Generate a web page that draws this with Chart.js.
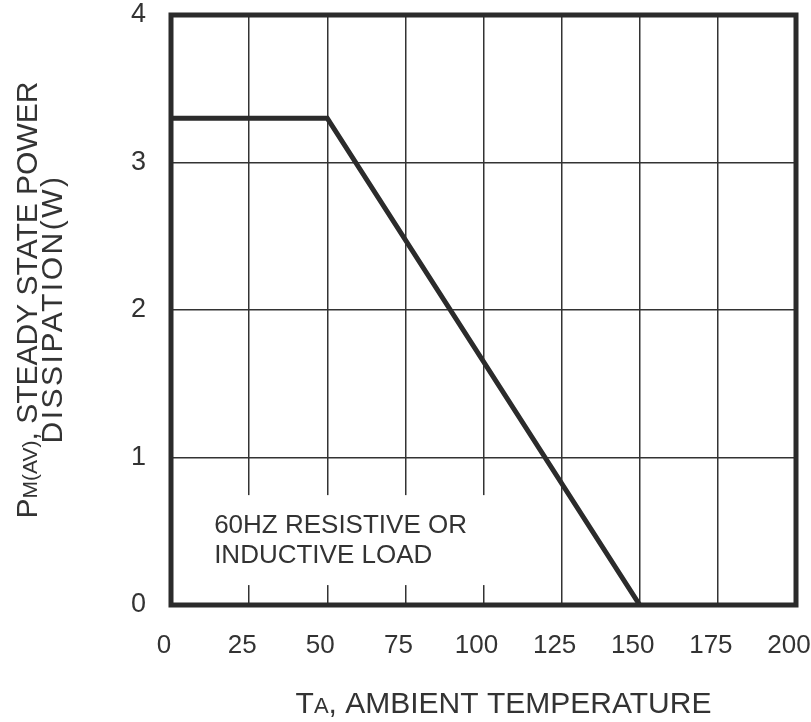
<!DOCTYPE html>
<html>
<head>
<meta charset="utf-8">
<script src="https://cdn.jsdelivr.net/npm/chart.js@4"></script>
<style>
  html, body { margin: 0; padding: 0; background: #fff; }
  #wrap { width: 811px; height: 722px; }
</style>
</head>
<body>
<div id="wrap"><canvas id="c" width="811" height="722"></canvas></div>
<script>
// ---- data ----
const temperature = [0, 50, 150];          // T_A (°C)
const powerW = [3.3, 3.3, 0];              // P_M(AV) (W)
const xTicks = [0, 25, 50, 75, 100, 125, 150, 175, 200];
const yTicks = [0, 1, 2, 3, 4];
const noteLines = ['60HZ RESISTIVE OR', 'INDUCTIVE LOAD'];

const FONT = '"Liberation Sans", Arial, sans-serif';
const INK = '#2b2b2b';
const TEXT = '#333';

function drawRich(ctx, parts, x, y, align, spacing) {
  spacing = spacing || '0px';
  let total = 0;
  ctx.letterSpacing = spacing;
  parts.forEach(p => { ctx.font = p.size + 'px ' + FONT; p.w = ctx.measureText(p.t).width; total += p.w; });
  let cx = align === 'center' ? x - total / 2 : x;
  ctx.textAlign = 'left';
  ctx.textBaseline = 'alphabetic';
  parts.forEach(p => { ctx.font = p.size + 'px ' + FONT; ctx.fillText(p.t, cx, y); cx += p.w; });
  ctx.letterSpacing = '0px';
}

const decor = {
  id: 'decor',
  beforeDatasetsDraw(chart) {
    const { ctx, scales: { x, y } } = chart;
    ctx.save();
    const l = x.getPixelForValue(4), r = x.getPixelForValue(108);
    const t = y.getPixelForValue(0.745), b = y.getPixelForValue(0.135);
    ctx.fillStyle = '#fff';
    ctx.fillRect(l, t, r - l, b - t);
    ctx.fillStyle = TEXT;
    ctx.font = '26px ' + FONT;
    ctx.textAlign = 'left';
    ctx.textBaseline = 'alphabetic';
    const tx = x.getPixelForValue(13.8);
    const by = y.getPixelForValue(0.485);
    noteLines.forEach((s, i) => ctx.fillText(s, tx, by + i * 30));
    ctx.restore();
  },
  afterDatasetsDraw(chart) {
    const { ctx, chartArea: a } = chart;
    ctx.save();
    ctx.strokeStyle = INK;
    ctx.lineWidth = 5;
    ctx.strokeRect(a.left, a.top, a.right - a.left, a.bottom - a.top);
    ctx.restore();
  },
  afterDraw(chart) {
    const { ctx, chartArea: a } = chart;
    ctx.save();
    ctx.fillStyle = TEXT;
    drawRich(ctx, [{ t: 'T', size: 30 }, { t: 'A', size: 22 }, { t: ', AMBIENT TEMPERATURE', size: 30 }],
      (a.left + a.right) / 2 + 20, 713, 'center');
    ctx.rotate(-Math.PI / 2);
    const cy = (a.top + a.bottom) / 2;
    drawRich(ctx, [{ t: 'P', size: 30 }, { t: 'M(AV)', size: 21 }, { t: ', STEADY STATE POWER', size: 30 }],
      -(cy - 10), 37, 'center');
    drawRich(ctx, [{ t: 'DISSIPATION(W)', size: 30 }], -(cy - 1), 62, 'center', '2.5px');
    ctx.restore();
  }
};

new Chart(document.getElementById('c'), {
  type: 'line',
  data: {
    datasets: [{
      data: temperature.map((t, i) => ({ x: t, y: powerW[i] })),
      borderColor: INK,
      borderWidth: 5,
      pointRadius: 0,
      fill: false,
      tension: 0,
      borderJoinStyle: 'miter'
    }]
  },
  options: {
    responsive: false,
    animation: false,
    devicePixelRatio: 1,
    layout: { padding: { top: 15, right: 15, left: 0, bottom: 0 } },
    plugins: { legend: { display: false }, tooltip: { enabled: false } },
    scales: {
      x: {
        type: 'linear', min: 0, max: 200,
        afterBuildTicks: s => { s.ticks = xTicks.map(v => ({ value: v })); },
        afterFit: s => { s.height = 117; s.paddingLeft = 0; s.paddingRight = 0; s.paddingTop = 0; s.paddingBottom = 0; },
        grid: { color: '#333', lineWidth: 1.5, drawTicks: false },
        border: { display: false },
        ticks: { color: TEXT, font: { family: FONT, size: 26 }, padding: 25, maxRotation: 0, labelOffset: -7 }
      },
      y: {
        type: 'linear', min: 0, max: 4,
        afterBuildTicks: s => { s.ticks = yTicks.map(v => ({ value: v })); },
        afterFit: s => { s.width = 171; s.paddingLeft = 0; s.paddingRight = 0; s.paddingTop = 0; s.paddingBottom = 0; },
        grid: { color: '#333', lineWidth: 1.5, drawTicks: false },
        border: { display: false },
        ticks: { color: TEXT, font: { family: FONT, size: 27 }, padding: 25 }
      }
    }
  },
  plugins: [decor]
});
</script>
</body>
</html>
